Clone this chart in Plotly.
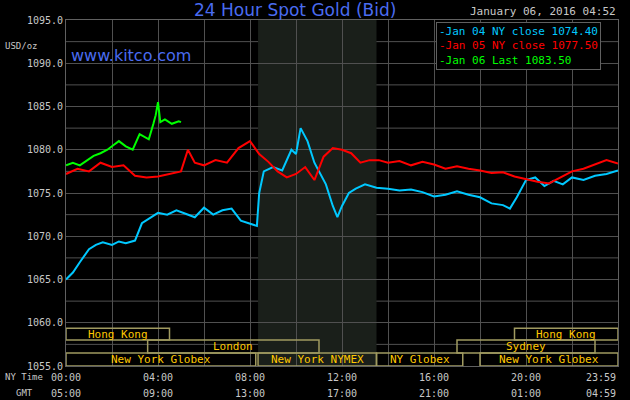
import plotly.graph_objects as go

hours_blue = [0,0.3,0.6,1,1.3,1.6,2,2.3,2.6,3,3.3,3.6,4,4.4,4.8,5.2,5.6,6,6.4,6.8,7.2,7.6,8,8.3,8.4,8.6,9,9.4,9.8,10,10.2,10.5,10.8,11,11.3,11.6,11.8,12,12.3,12.6,13,13.5,14,14.5,15,15.5,16,16.5,17,17.5,18,18.5,19,19.3,19.6,20,20.4,20.8,21.2,21.6,22,22.5,23,23.5,24]
blue = [1065,1065.8,1067,1068.5,1069,1069.3,1069,1069.4,1069.2,1069.5,1071.5,1072,1072.7,1072.5,1073,1072.6,1072.2,1073.3,1072.5,1073,1073.2,1071.8,1071.5,1071.2,1075,1077.5,1078,1077.6,1080,1079.5,1082.5,1081,1078.5,1077.5,1076,1073.5,1072.2,1073.5,1075,1075.5,1076,1075.6,1075.5,1075.3,1075.4,1075.1,1074.6,1074.8,1075.2,1074.8,1074.5,1073.8,1073.6,1073.2,1074.5,1076.5,1076.8,1075.8,1076.4,1076,1076.8,1076.5,1077,1077.2,1077.6]

hours_red = [0,0.5,1,1.5,2,2.5,3,3.5,4,4.5,5,5.3,5.6,6,6.5,7,7.5,8,8.4,8.8,9.2,9.6,10,10.4,10.8,11.2,11.6,12,12.4,12.8,13.2,13.6,14,14.5,15,15.5,16,16.5,17,17.5,18,18.5,19,19.5,20,20.5,21,21.5,22,22.5,23,23.5,24]
red = [1077.2,1077.8,1077.5,1078.5,1078,1078.2,1077,1076.8,1076.9,1077.2,1077.5,1080,1078.5,1078.2,1078.8,1078.5,1080.2,1081,1079.5,1078.6,1077.5,1076.8,1077.2,1078,1076.5,1079.2,1080.2,1080,1079.6,1078.5,1078.8,1078.8,1078.5,1078.7,1078.2,1078.6,1078.3,1077.8,1078.1,1077.8,1077.6,1077.3,1077.4,1076.9,1076.6,1076.3,1076.1,1076.8,1077.5,1077.8,1078.3,1078.8,1078.4]

hours_green = [0,0.3,0.6,0.9,1.2,1.5,1.8,2.1,2.3,2.6,2.9,3.2,3.4,3.6,3.8,3.9,4.0,4.1,4.3,4.6,4.9,5.0]
green = [1078.2,1078.5,1078.2,1078.8,1079.3,1079.6,1080,1080.6,1081,1080.4,1080,1081.8,1081.5,1081.2,1083,1084,1085.5,1083.2,1083.5,1083,1083.3,1083.2]

tick_hours = [0,4,8,12,16,20,24]
ny_labels = ["00:00","04:00","08:00","12:00","16:00","20:00","23:59"]
gmt_labels = ["05:00","09:00","13:00","17:00","21:00","01:00","04:59"]
y_ticks = [1055,1060,1065,1070,1075,1080,1085,1090,1095]

sessions = [("Hong Kong",0,4.5,2),("Hong Kong",19.5,24,2),("London",3.55,11,1),("Sydney",17,23,1),
            ("New York Globex",0,8.25,0),("New York NYMEX",8.35,13.5,0),("NY Globex",13.5,17.25,0),("New York Globex",18,24,0)]
rows = [(1055,1056.5),(1056.5,1058),(1058,1059.35)]

mono = "DejaVu Sans Mono"
fig = go.Figure()
fig.add_trace(go.Scatter(x=hours_blue, y=blue, mode="lines", line=dict(color="#00c8ff", width=2)))
fig.add_trace(go.Scatter(x=hours_red, y=red, mode="lines", line=dict(color="#ff0000", width=2)))
fig.add_trace(go.Scatter(x=hours_green, y=green, mode="lines", line=dict(color="#00ff00", width=2)))

shapes = [dict(type="rect", xref="x", yref="y", x0=8.35, x1=13.5, y0=1055, y1=1095,
               fillcolor="#1a1f1a", line=dict(width=0), layer="below")]
ann = []
for name, s, e, r in sessions:
    y0, y1 = rows[r]
    shapes.append(dict(type="rect", xref="x", yref="y", x0=s, x1=e, y0=y0, y1=y1,
                       line=dict(color="#a09a60", width=1.5), fillcolor="rgba(0,0,0,0)"))
    ann.append(dict(x=(s+e)/2, y=(y0+y1)/2, xref="x", yref="y", text=name, showarrow=False,
                    font=dict(family=mono, size=11, color="#ffc800")))
for h, a, b in zip(tick_hours, ny_labels, gmt_labels):
    xa = "right" if h == 24 else "center"
    ann.append(dict(x=h, y=-0.012, xref="x", yref="paper", xanchor=xa, yanchor="top", text=a, showarrow=False,
                    font=dict(family=mono, size=10, color="#c8c8c8")))
    ann.append(dict(x=h, y=-0.058, xref="x", yref="paper", xanchor=xa, yanchor="top", text=b, showarrow=False,
                    font=dict(family=mono, size=10, color="#c8c8c8")))
ann += [
    dict(x=-0.115, y=-0.012, xref="paper", yref="paper", xanchor="left", yanchor="top", text="NY Time", showarrow=False, font=dict(family=mono, size=9, color="#c8c8c8")),
    dict(x=-0.095, y=-0.058, xref="paper", yref="paper", xanchor="left", yanchor="top", text="GMT", showarrow=False, font=dict(family=mono, size=9, color="#c8c8c8")),
    dict(x=-0.115, y=0.945, xref="paper", yref="paper", xanchor="left", yanchor="top", text="USD/oz", showarrow=False, font=dict(family=mono, size=9, color="#c8c8c8")),
    dict(x=0.415, y=1.03, xref="paper", yref="paper", yanchor="middle", text="24 Hour Spot Gold (Bid)", showarrow=False, font=dict(family="DejaVu Sans", size=17, color="#4a6cf0")),
    dict(x=0.005, y=0.93, xref="paper", yref="paper", xanchor="left", text="www.kitco.com", showarrow=False, font=dict(family="DejaVu Sans", size=16, color="#4a6cf0")),
    dict(x=1.0, y=1.025, xref="paper", yref="paper", xanchor="right", yanchor="middle", text="January 06, 2016 04:52", showarrow=False, font=dict(family=mono, size=11, color="#c8c8c8")),
    dict(x=0.67, y=0.995, xref="paper", yref="paper", xanchor="left", yanchor="top", align="left",
         text="<span style='color:#00c8ff'>-Jan 04 NY close 1074.40</span><br><span style='color:#ff0000'>-Jan 05 NY close 1077.50</span><br><span style='color:#00ff00'>-Jan 06 Last 1083.50</span>",
         showarrow=False, bgcolor="#000000", bordercolor="#606060", borderwidth=1, borderpad=2,
         font=dict(family=mono, size=11)),
]
fig.update_layout(
    width=630, height=400, paper_bgcolor="#000000", plot_bgcolor="#000000",
    margin=dict(l=66, r=12, t=20, b=34, autoexpand=False), showlegend=False, shapes=shapes, annotations=ann,
    xaxis=dict(range=[0,24], dtick=2, showticklabels=False, gridcolor="#505050", gridwidth=1,
               zeroline=False, showline=True, linecolor="#606060", mirror=True),
    yaxis=dict(range=[1055,1095], tickvals=y_ticks, ticktext=[f"{v:.1f}" for v in y_ticks], automargin=False,
               gridcolor="#505050", zeroline=False, showline=True, linecolor="#606060", mirror=True,
               tickfont=dict(family=mono, size=10, color="#c8c8c8")),
)
for v in [1057.5,1062.5,1067.5,1072.5,1077.5,1082.5,1087.5,1092.5]:
    fig.add_hline(y=v, line=dict(color="#505050", width=1), layer="below")
fig.write_html("out.html", config={"displayModeBar": False})
with open("out.html") as f:
    html = f.read()
html = html.replace("<head>", "<head><style>html,body{margin:0;padding:0;background:#000;overflow:hidden}</style>", 1)
with open("out.html", "w") as f:
    f.write(html)
